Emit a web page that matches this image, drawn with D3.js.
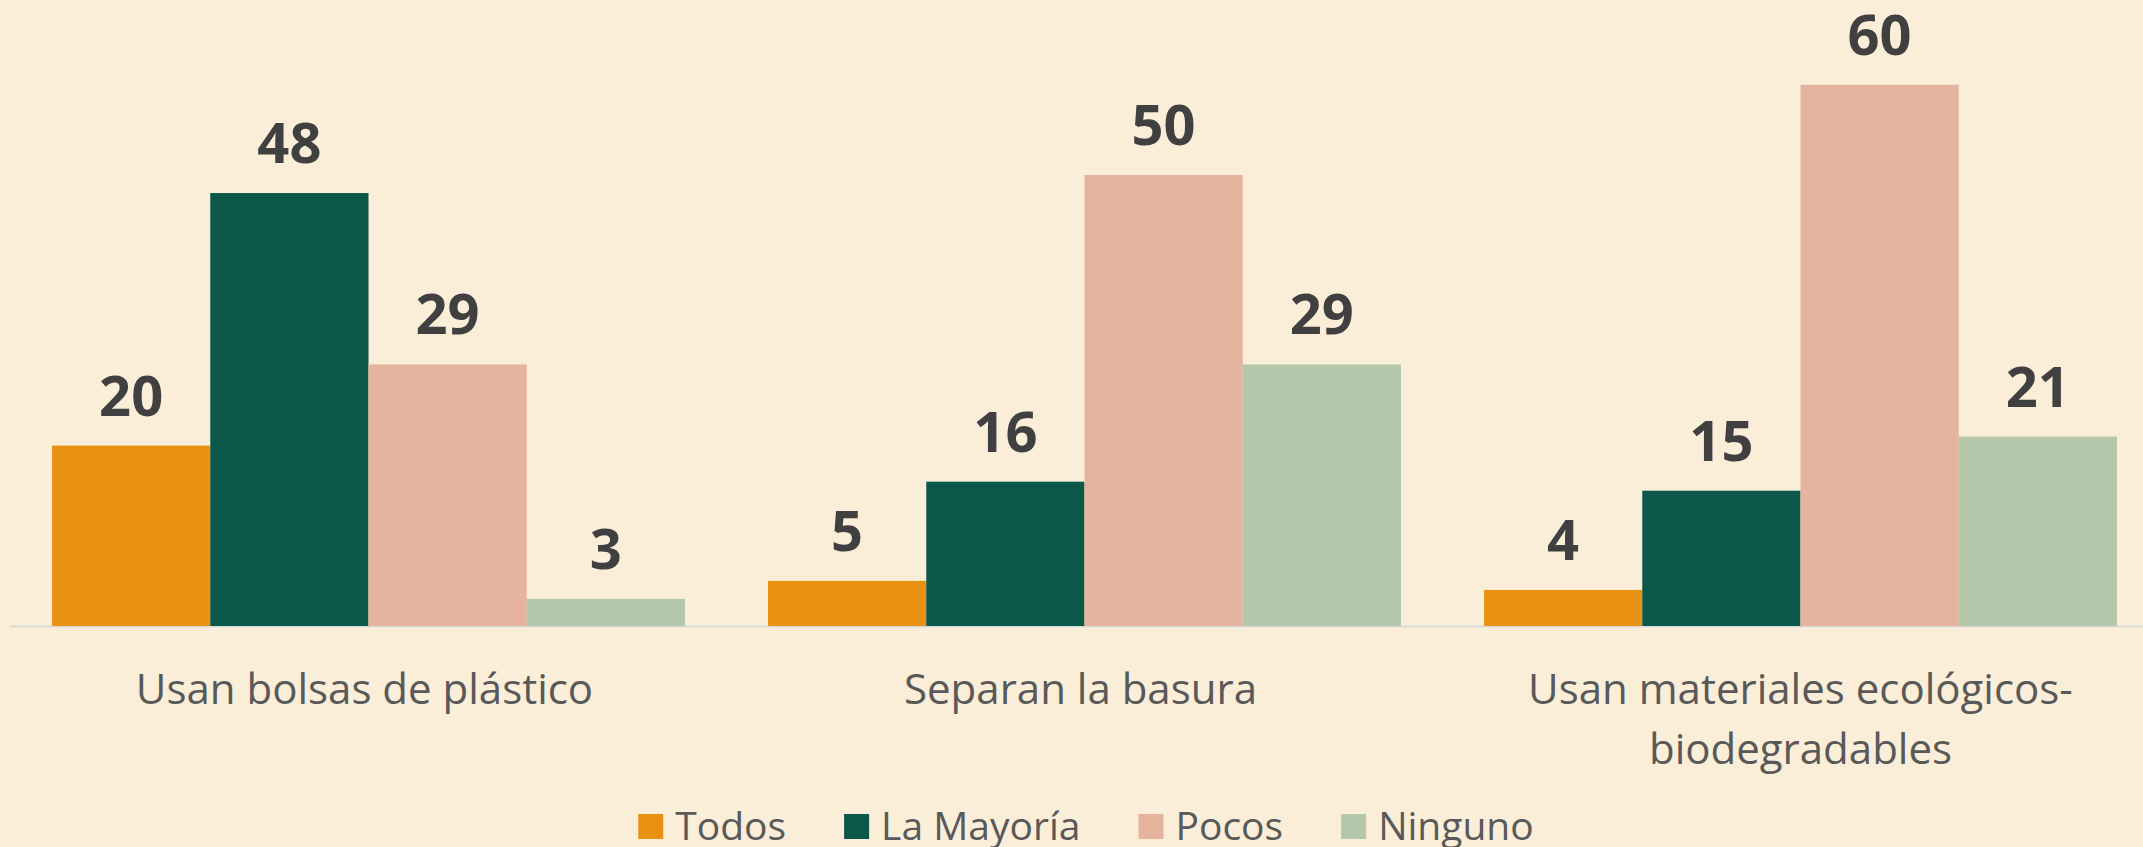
<!DOCTYPE html>
<html>
<head>
<meta charset="utf-8">
<script src="https://cdn.jsdelivr.net/npm/d3@7"></script>
<style>
  html, body { margin: 0; padding: 0; background: #FAEED8; }
  svg { display: block; }
</style>
</head>
<body>
<svg id="chart" width="2143" height="847"></svg>
<script>
const categories = ["Usan bolsas de plástico", "Separan la basura", "Usan materiales ecológicos-biodegradables"];
const categoryLines = [["Usan bolsas de plástico"], ["Separan la basura"], ["Usan materiales ecológicos-", "biodegradables"]];
const seriesNames = ["Todos", "La Mayoría", "Pocos", "Ninguno"];
const todos = [20, 5, 4];
const laMayoria = [48, 16, 15];
const pocos = [29, 50, 60];
const ninguno = [3, 29, 21];
const seriesColors = ["#E89112", "#0B574A", "#E6B49E", "#B4C7AA"];

const seriesValues = [todos, laMayoria, pocos, ninguno];

const W = 2143, H = 847;
const svg = d3.select("#chart");
svg.append("rect").attr("width", W).attr("height", H).attr("fill", "#FAEED8");

const baseline = 626;
const x0 = d3.scaleBand().domain(categories).range([10.5, 2158.5]).paddingInner(0.116).paddingOuter(0.058);
const x1 = d3.scaleBand().domain(seriesNames).range([0, x0.bandwidth()]).padding(0);
const y = d3.scaleLinear().domain([0, 70]).range([baseline, baseline - 9.02 * 70]);

// axis line
svg.append("line").attr("x1", 10).attr("x2", W).attr("y1", baseline + 0.5).attr("y2", baseline + 0.5)
  .attr("stroke", "#D9D9D9").attr("stroke-width", 2);

const groups = svg.selectAll("g.grp").data(categories).enter().append("g")
  .attr("class", "grp").attr("transform", d => `translate(${x0(d)},0)`);

groups.each(function(cat, ci) {
  const g = d3.select(this);
  seriesNames.forEach((s, si) => {
    const v = seriesValues[si][ci];
    g.append("rect")
      .attr("x", x1(s))
      .attr("y", y(v))
      .attr("width", x1.bandwidth())
      .attr("height", baseline - y(v))
      .attr("fill", seriesColors[si]);
    g.append("text")
      .attr("x", x1(s) + x1.bandwidth() / 2)
      .attr("y", y(v) - 30)
      .attr("text-anchor", "middle")
      .attr("font-family", "'Open Sans', sans-serif")
      .attr("font-weight", 700)
      .attr("font-size", 56)
      .attr("fill", "#404040")
      .text(v);
  });
  const lines = categoryLines[ci];
  lines.forEach((ln, li) => {
    g.append("text")
      .attr("x", x0.bandwidth() / 2 - (ci < 2 ? 4 : 0))
      .attr("y", 704 + li * 60)
      .attr("text-anchor", "middle")
      .attr("font-family", "'Open Sans', sans-serif")
      .attr("font-size", 42)
      .attr("fill", "#595959")
      .text(ln);
  });
});

// legend
const legend = svg.append("g");
let lx = 0;
seriesNames.forEach((s, i) => {
  const item = legend.append("g").attr("transform", `translate(${lx},0)`);
  item.append("rect").attr("x", 0).attr("y", 814).attr("width", 25).attr("height", 25).attr("fill", seriesColors[i]);
  const t = item.append("text").attr("x", 37).attr("y", 840)
    .attr("font-family", "'Open Sans', sans-serif").attr("font-size", 39).attr("fill", "#595959").text(s);
  const tw = t.node().getComputedTextLength();
  lx += 37 + tw + 58;
});
const totalW = lx - 58;
legend.attr("transform", `translate(${1086 - totalW / 2},0)`);
</script>
</body>
</html>
